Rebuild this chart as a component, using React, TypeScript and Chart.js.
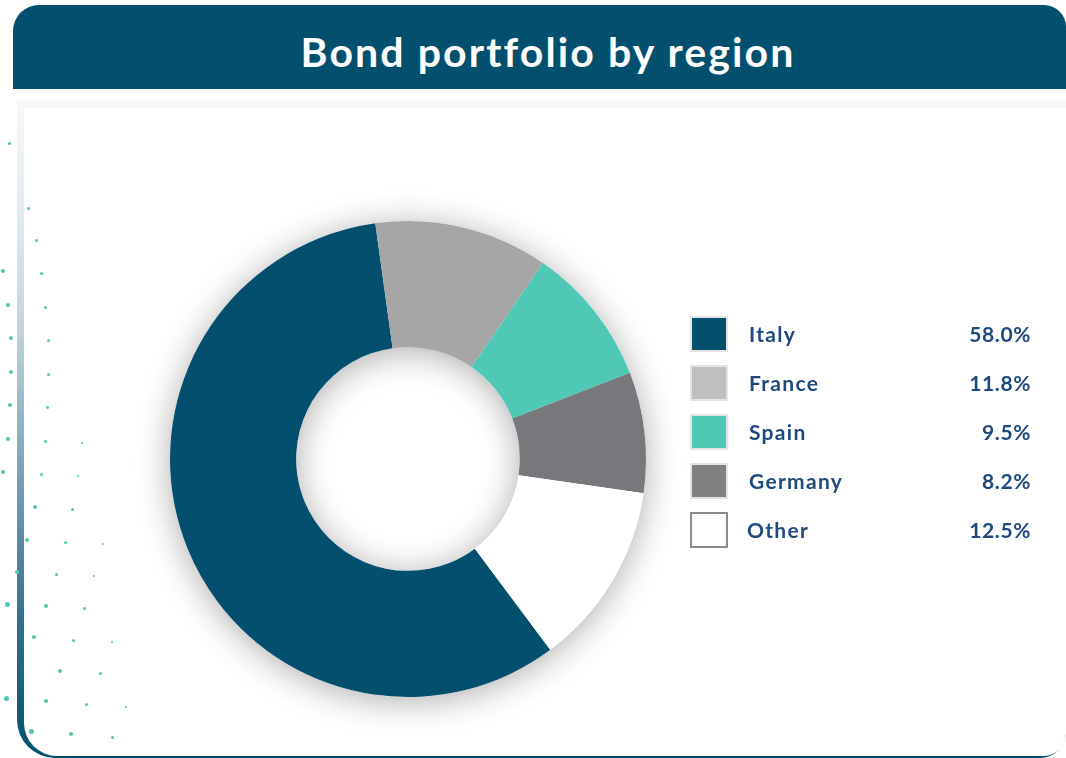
import React, { useEffect, useRef } from "react";
import { Chart, registerables } from "chart.js";

Chart.register(...registerables);

const TITLE = "Bond portfolio by region";
const regions = ["Italy", "France", "Spain", "Germany", "Other"];
const shares = [58.0, 11.8, 9.5, 8.2, 12.5];
const sliceColors = ["#02506E", "#A6A6A6", "#4FC8B5", "#77787B", "#FFFFFF"];
const swatchColors = ["#02506E", "#BFBFBF", "#4FC8B5", "#808080", "#FFFFFF"];

// decorative dots on the left edge [x, y, size]
const dots: [number, number, number][] = [
  [9, 143, 3], [28, 208, 3], [36, 240, 3], [3, 271, 4], [41, 273, 3], [8, 305, 4], [45, 307, 3],
  [11, 338, 4], [48, 340, 3], [11, 372, 4], [48, 374, 3], [10, 405, 4], [47, 407, 3],
  [8, 439, 4], [45, 441, 3], [82, 443, 2], [3, 472, 4], [41, 474, 3], [78, 476, 2],
  [35, 507, 4], [72, 509, 3], [27, 540, 4], [65, 542, 3], [103, 544, 2], [17, 572, 4],
  [56, 574, 3], [94, 576, 2], [7, 604, 5], [46, 606, 4], [84, 608, 3], [34, 637, 4],
  [73, 640, 3], [112, 642, 2], [60, 671, 4], [100, 673, 3], [6, 698, 5], [46, 701, 4],
  [86, 704, 3], [126, 707, 2], [31, 731, 5], [71, 734, 4], [112, 737, 3],
];

const FONT = "Lato, 'Open Sans', sans-serif";
const TEXT_BLUE = "#1F497D";

const ringShadow = {
  id: "ringShadow",
  beforeDatasetsDraw(chart: any) {
    const meta = chart.getDatasetMeta(0);
    if (!meta || !meta.data.length) return;
    const p = meta.data[0].getProps(["x", "y", "outerRadius", "innerRadius"], true);
    const ctx = chart.ctx;
    ctx.save();
    ctx.shadowColor = "rgba(0,0,0,0.32)";
    ctx.shadowBlur = 34;
    ctx.shadowOffsetX = 0;
    ctx.shadowOffsetY = 4;
    ctx.fillStyle = "#ffffff";
    ctx.beginPath();
    ctx.arc(p.x, p.y, p.outerRadius, 0, Math.PI * 2, false);
    ctx.arc(p.x, p.y, p.innerRadius, 0, Math.PI * 2, true);
    ctx.closePath();
    ctx.fill();
    ctx.restore();
  },
};

export default function App() {
  const canvasRef = useRef<HTMLCanvasElement | null>(null);

  useEffect(() => {
    document.body.style.margin = "0";
    const chart = new Chart(canvasRef.current as HTMLCanvasElement, {
      type: "doughnut",
      data: {
        labels: regions,
        datasets: [
          {
            data: shares,
            backgroundColor: sliceColors,
            borderWidth: 0,
            hoverOffset: 0,
          },
        ],
      },
      options: {
        animation: false,
        responsive: false,
        maintainAspectRatio: false,
        rotation: 143.3,
        cutout: "47%",
        layout: { padding: 70 },
        plugins: {
          legend: { display: false },
          tooltip: { enabled: false },
          title: { display: false },
        },
        events: [],
      },
      plugins: [ringShadow],
    });
    return () => chart.destroy();
  }, []);

  const labelStyle: React.CSSProperties = {
    position: "absolute",
    top: 0,
    height: 36,
    lineHeight: "36px",
    fontSize: 21,
    fontWeight: 700,
    color: TEXT_BLUE,
    whiteSpace: "nowrap",
  };

  return (
    <div
      style={{
        position: "absolute",
        left: 0,
        top: 0,
        width: 1066,
        height: 758,
        overflow: "hidden",
        background: "#ffffff",
        fontFamily: FONT,
      }}
    >
      {/* card with gradient border */}
      <div
        style={{
          position: "absolute",
          left: 17,
          top: 100,
          width: 1049,
          height: 658,
          borderRadius: "0 0 26px 38px",
          background:
            "linear-gradient(to bottom, #f6f8fa 0%, #e6edf1 15%, #c2d3dc 35%, #7fa6b7 55%, #2f6f8a 80%, #02506E 100%)",
        }}
      />
      <div
        style={{
          position: "absolute",
          left: 24,
          top: 108,
          width: 1042,
          height: 648,
          borderRadius: "0 0 22px 33px",
          background: "#ffffff",
        }}
      />
      {/* header */}
      <div
        style={{
          position: "absolute",
          left: 13,
          top: 5,
          width: 1053,
          height: 84,
          background: "#02506E",
          borderRadius: "26px 22px 0 0",
        }}
      />
      <div
        style={{
          position: "absolute",
          left: 0,
          top: 10,
          width: 1096,
          height: 84,
          lineHeight: "84px",
          textAlign: "center",
          color: "#ffffff",
          fontWeight: 700,
          fontSize: 41,
          letterSpacing: 2.1,
          whiteSpace: "nowrap",
        }}
      >
        {TITLE}
      </div>
      {/* dots */}
      {dots.map(([x, y, s], i) => (
        <div
          key={i}
          style={{
            position: "absolute",
            left: x - s / 2,
            top: y - s / 2,
            width: s,
            height: s,
            borderRadius: "50%",
            background: "#4FC8B5",
          }}
        />
      ))}
      {/* chart */}
      <canvas
        ref={canvasRef}
        width={616}
        height={616}
        style={{ position: "absolute", left: 100, top: 151, width: 616, height: 616 }}
      />
      {/* legend */}
      {regions.map((r, i) => (
        <div key={r} style={{ position: "absolute", left: 0, top: 316 + i * 49, width: 1066, height: 36 }}>
          <div
            style={{
              position: "absolute",
              left: 690,
              top: 0,
              width: 34,
              height: 32,
              background: swatchColors[i],
              border: i === regions.length - 1 ? "2px solid #8C8C8C" : "2px solid #E4E4E4",
            }}
          />
          <div style={{ ...labelStyle, left: i === regions.length - 1 ? 747 : 749, letterSpacing: 1.3 }}>{r}</div>
          <div style={{ ...labelStyle, right: 1066 - 1031, textAlign: "right", letterSpacing: 0.6 }}>
            {shares[i].toFixed(1) + "%"}
          </div>
        </div>
      ))}
    </div>
  );
}
